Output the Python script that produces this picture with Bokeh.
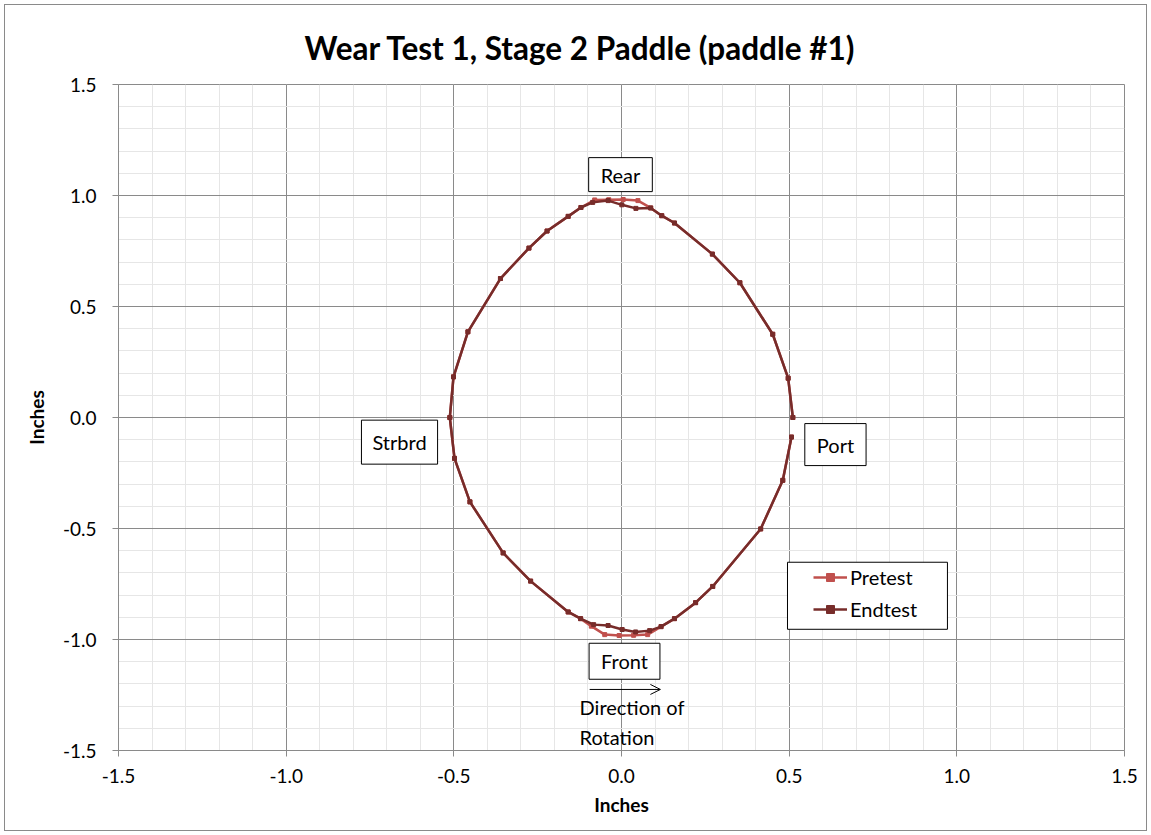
from bokeh.plotting import figure
from bokeh.models import (Label, Legend, LegendItem, FixedTicker, NumeralTickFormatter,
                          Arrow, OpenHead, BoxAnnotation, Range1d)
from bokeh.embed import file_html
from bokeh.resources import INLINE

# ---------------- data ----------------
pre_x = [0.511, 0.497, 0.451, 0.353, 0.271, 0.158, 0.120, 0.087, 0.049, 0.005,
         -0.038, -0.080, -0.121, -0.159, -0.222, -0.276, -0.361, -0.458, -0.501, -0.512,
         -0.498, -0.452, -0.353, -0.271, -0.159, -0.122, -0.090, -0.050, -0.007, 0.036,
         0.078, 0.118, 0.158, 0.221, 0.272, 0.415, 0.481, 0.507]
pre_y = [0.000, 0.177, 0.375, 0.607, 0.736, 0.876, 0.909, 0.944, 0.977, 0.982,
         0.981, 0.980, 0.946, 0.906, 0.840, 0.763, 0.626, 0.386, 0.183, 0.000,
         -0.184, -0.380, -0.610, -0.737, -0.876, -0.906, -0.940, -0.978, -0.982, -0.981,
         -0.978, -0.942, -0.906, -0.834, -0.761, -0.502, -0.283, -0.088]

end_x = [0.511, 0.497, 0.451, 0.353, 0.271, 0.158, 0.120, 0.087, 0.043, 0.001,
         -0.040, -0.086, -0.121, -0.159, -0.222, -0.276, -0.361, -0.458, -0.501, -0.512,
         -0.498, -0.452, -0.353, -0.271, -0.159, -0.122, -0.083, -0.040, 0.002, 0.042,
         0.084, 0.118, 0.158, 0.221, 0.272, 0.415, 0.481, 0.507]
end_y = [0.000, 0.177, 0.375, 0.607, 0.736, 0.876, 0.909, 0.944, 0.942, 0.958,
         0.977, 0.969, 0.946, 0.906, 0.840, 0.763, 0.626, 0.386, 0.183, 0.000,
         -0.184, -0.380, -0.610, -0.737, -0.876, -0.906, -0.933, -0.937, -0.955, -0.966,
         -0.960, -0.942, -0.906, -0.834, -0.761, -0.502, -0.283, -0.088]

major_ticks = [-1.5, -1.0, -0.5, 0.0, 0.5, 1.0, 1.5]
minor_ticks = [round(-1.5 + 0.1 * i, 1) for i in range(31)]

title_text = "Wear Test 1, Stage 2 Paddle (paddle #1)"
axis_title = "Inches"
series_names = ["Pretest", "Endtest"]
series_colors = ["#C0504D", "#772C2A"]

FONT = "Lato"

p = figure(width=1151, height=835, output_backend="svg", toolbar_location=None,
           x_range=Range1d(-1.5, 1.5), y_range=Range1d(-1.5, 1.5),
           min_border_left=118, min_border_right=27, min_border_top=84, min_border_bottom=85)
p.styles = {"outline": "1px solid #8a8a8a", "outline-offset": "-5px", "background": "white"}
p.outline_line_color = "#8a8a8a"
p.background_fill_color = "white"
p.border_fill_color = "white"
p.border_fill_alpha = 0.0

p.title.text = title_text
p.title.align = "left"
p.title.offset = 186
p.title.vertical_align = "top"
p.title.text_font = FONT
p.title.text_font_style = "bold"
p.title.text_font_size = "31.5px"
p.title.text_color = "black"
p.title.standoff = 31

for ax in (p.xaxis[0], p.yaxis[0]):
    ax.ticker = FixedTicker(ticks=major_ticks, minor_ticks=minor_ticks)
    ax.formatter = NumeralTickFormatter(format="0.0")
    ax.axis_line_color = "#8a8a8a"
    ax.major_tick_line_color = "#8a8a8a"
    ax.major_tick_out = 6
    ax.major_tick_in = 0
    ax.minor_tick_out = 0
    ax.minor_tick_in = 0
    ax.major_label_text_font = FONT
    ax.major_label_text_font_size = "19px"
    ax.major_label_text_color = "black"
    ax.axis_label = axis_title
    ax.axis_label_text_font = FONT
    ax.axis_label_text_font_style = "bold"
    ax.axis_label_text_font_size = "19px"
    ax.axis_label_text_color = "black"

p.xaxis[0].major_label_standoff = 12
p.xaxis[0].axis_label_standoff = 7
p.yaxis[0].major_label_standoff = 16
p.yaxis[0].axis_label_standoff = 12

for g in (p.xgrid[0], p.ygrid[0]):
    g.grid_line_color = "#8a8a8a"
    g.grid_line_width = 1
    g.minor_grid_line_color = "#e6e6e6"
    g.minor_grid_line_width = 1

# series
renderers = []
for xs, ys, col in ((pre_x, pre_y, series_colors[0]), (end_x, end_y, series_colors[1])):
    ln = p.line(xs, ys, line_color=col, line_width=2.5)
    sc = p.scatter(xs, ys, marker="square", size=4, fill_color=col, line_color=col)
    renderers.append([ln, sc])

# boxed labels
def boxed(txt, x, y, pl, pt):
    p.add_layout(Label(x=x, y=y, text=txt, text_align="center", text_baseline="middle",
                       text_font=FONT, text_font_size="20px", text_color="black",
                       background_fill_color="white", border_line_color="black",
                       border_line_width=1,
                       padding=dict(left=pl, right=pl, top=pt, bottom=pt)))

boxed("Rear", -0.003, 1.094, 12, 5)
boxed("Strbrd", -0.662, -0.111, 11, 10)
boxed("Port", 0.638, -0.122, 12, 9)
boxed("Front", 0.009, -1.098, 12, 6)

p.add_layout(Arrow(x_start=-0.095, y_start=-1.225, x_end=0.116, y_end=-1.225,
                   line_color="black", line_width=1,
                   end=OpenHead(size=10, line_color="black", line_width=1)))

for txt, yy in (("Direction of", -1.303), ("Rotation", -1.439)):
    p.add_layout(Label(x=-0.125, y=yy, text=txt, text_align="left", text_baseline="middle",
                       text_font=FONT, text_font_size="20px", text_color="black"))

# legend
p.add_layout(BoxAnnotation(left=0.495, right=0.972, top=-0.652, bottom=-0.954,
                           fill_color="white", fill_alpha=1.0,
                           line_color="black", line_alpha=1.0, line_width=1))
legend = Legend(items=[LegendItem(label=series_names[i], renderers=renderers[i])
                       for i in range(2)],
                location=(695, 129), padding=0, margin=0, spacing=8,
                glyph_width=34, glyph_height=20, label_height=20, label_standoff=3,
                border_line_alpha=0, background_fill_alpha=0,
                label_text_font=FONT, label_text_font_size="20px", label_text_color="black")
p.add_layout(legend)

open("out.html", "w").write(file_html(p, INLINE))
